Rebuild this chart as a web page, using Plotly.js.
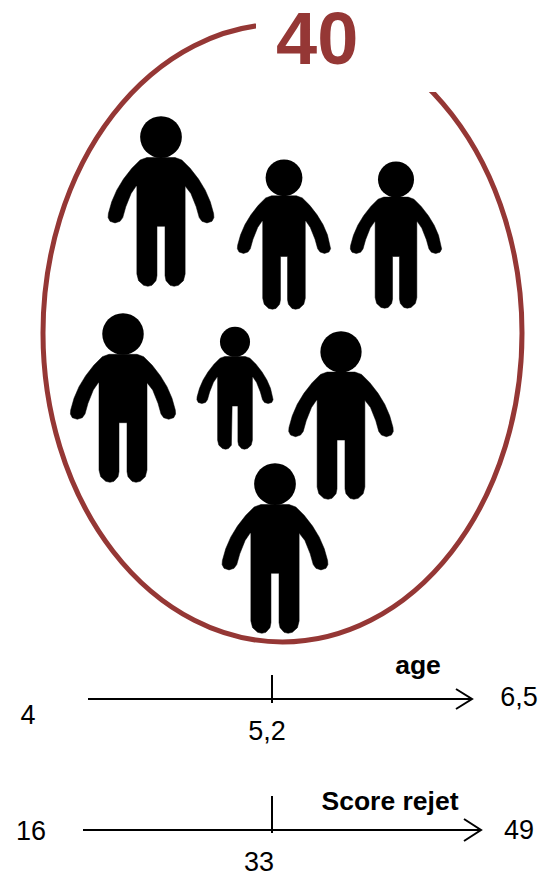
<!DOCTYPE html>
<html><head><meta charset="utf-8">
<script src="https://cdn.plot.ly/plotly-3.0.1.min.js"></script>
<style>html,body{margin:0;padding:0;background:#fff}#chart{width:543px;height:876px}</style>
</head><body><div id="chart"></div>
<script>
// People in the group
const personX = [161, 284, 396, 123, 235, 341, 275];
const personTop = [118, 161, 163, 315, 328, 333, 465];
const personHeight = [168, 148, 145, 167, 121, 166, 168];
// Pictogram outline (right half), for a figure 167 high
const outlineDx = [0,14,20.7,29,37.3,44,49,52.3,52.6,50.7,45.7,40.7,38,35,29.7,24.7,24,24,22.3,17.3,13,9,5,4,4];
const outlineDy = [39.3,39.3,41.7,50,60.7,71.7,83.3,95,99,102.7,104.3,102.7,99,88.3,75,67.7,67.7,155,161.7,166.3,167.3,166.3,161.7,156.7,107.7];
const headDy = 19, headDiameter = 41.5, refHeight = 167;
// Enclosure
const ringLeft = 43, ringRight = 522, ringTop = 24, ringBottom = 642;
const gapX = [256, 442], gapY = [0, 92];
const groupCount = ["40"];
// Scales
const scaleLineX = [[88, 472], [83, 481]];
const scaleLineY = [699, 830];
const scaleTickX = [272, 272];
const scaleTickY = [[675, 703], [796, 833]];
const arrowLen = [16, 17], arrowHalf = [10, 11];
const scaleLabels = ["4", "6,5", "5,2", "16", "49", "33"];
const scaleLabelX = [28, 519, 267, 31, 519, 259];
const scaleLabelY = [717, 699, 733, 833, 832, 864.5];
const scaleNames = ["age", "Score rejet"];
const scaleNameX = [418, 390];
const scaleNameY = [667, 803];

const RED = "#953735", FONT = "'Liberation Sans', Arial, sans-serif";
const traces = [];
personX.forEach((cx, i) => {
  const k = personHeight[i] / refHeight, xs = [], ys = [];
  outlineDx.forEach((d, j) => { xs.push(cx + d * k); ys.push(personTop[i] + outlineDy[j] * k); });
  for (let j = outlineDx.length - 1; j >= 0; j--) { xs.push(cx - outlineDx[j] * k); ys.push(personTop[i] + outlineDy[j] * k); }
  traces.push({x: xs, y: ys, mode: "lines", fill: "toself", fillcolor: "#000", line: {color: "#000", width: 0.5}, hoverinfo: "skip"});
});
traces.push({
  x: personX,
  y: personTop.map((t, i) => t + headDy * personHeight[i] / refHeight),
  mode: "markers", opacity: 1,
  marker: {color: "#000", opacity: 1, size: personHeight.map(h => headDiameter * h / refHeight), line: {width: 0}},
  hoverinfo: "skip"
});
scaleLineX.forEach((lx, i) => {
  const y = scaleLineY[i], e = lx[1];
  const line = {color: "#000", width: 2};
  traces.push({x: lx, y: [y, y], mode: "lines", line, hoverinfo: "skip"});
  traces.push({x: [scaleTickX[i], scaleTickX[i]], y: scaleTickY[i], mode: "lines", line, hoverinfo: "skip"});
  traces.push({x: [e - arrowLen[i], e, e - arrowLen[i]], y: [y - arrowHalf[i], y, y + arrowHalf[i]], mode: "lines", line, hoverinfo: "skip"});
});
traces.push({x: scaleLabelX, y: scaleLabelY, text: scaleLabels, mode: "text", textposition: "middle center",
  textfont: {family: FONT, size: 27, color: "#000"}, hoverinfo: "skip"});
traces.push({x: scaleNameX, y: scaleNameY, text: scaleNames.map(s => "<b>" + s + "</b>"), mode: "text", textposition: "middle center",
  textfont: {family: FONT, size: 26.5, color: "#000"}, hoverinfo: "skip"});

const hidden = {visible: false, fixedrange: true};
const layout = {
  width: 543, height: 876, margin: {l: 0, r: 0, t: 0, b: 0},
  paper_bgcolor: "#fff", plot_bgcolor: "#fff", showlegend: false,
  xaxis: Object.assign({range: [0, 543]}, hidden),
  yaxis: Object.assign({range: [876, 0]}, hidden),
  shapes: [
    {type: "circle", xref: "x", yref: "y", x0: ringLeft, x1: ringRight, y0: ringTop, y1: ringBottom,
     line: {color: RED, width: 5}, fillcolor: "rgba(0,0,0,0)", layer: "above"},
    {type: "rect", xref: "x", yref: "y", x0: gapX[0], x1: gapX[1], y0: gapY[0], y1: gapY[1],
     line: {width: 0}, fillcolor: "#fff", layer: "above"}
  ],
  annotations: [{text: "<b>" + groupCount[0] + "</b>", x: 317, y: 38, xref: "x", yref: "y", showarrow: false,
    xanchor: "center", yanchor: "middle", font: {family: FONT, size: 74, color: RED}}]
};
Plotly.newPlot("chart", traces, layout, {displayModeBar: false, staticPlot: true});
</script></body></html>
